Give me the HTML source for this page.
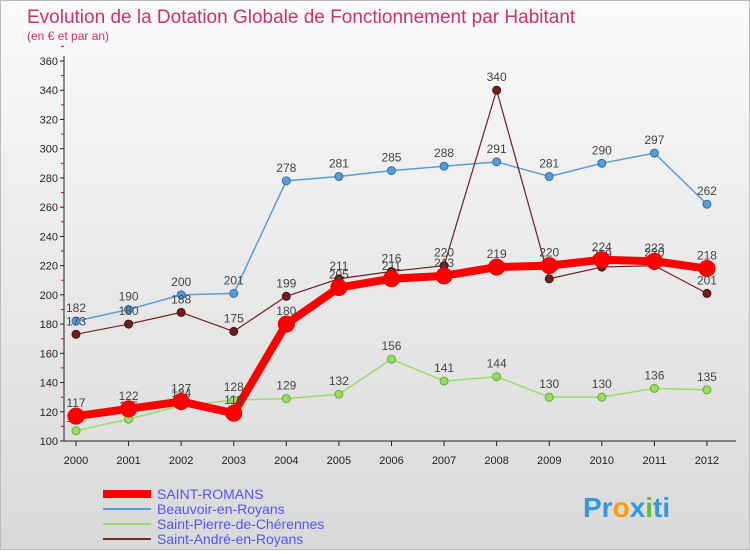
<!DOCTYPE html>
<html><head><meta charset="utf-8"><style>
body{margin:0;width:750px;height:550px;overflow:hidden;font-family:"Liberation Sans",sans-serif}
#wrap{position:relative;width:748px;height:548px;border:1px solid #bbb;background:linear-gradient(#fafafa,#d9d9d9)}
</style></head><body>
<div id="wrap">
<svg id="svg" width="748" height="548" xmlns="http://www.w3.org/2000/svg">
<text x="26" y="22" font-size="19" fill="#c8336a">Evolution de la Dotation Globale de Fonctionnement par Habitant</text>
<text x="26" y="39" font-size="12" fill="#c8336a">(en € et par an)</text>
<g id="axes"></g><g id="series"></g>
<g>
<line x1="102" y1="493" x2="150" y2="493" stroke="#f00" stroke-width="8"/>
<text x="156" y="498" font-size="14" fill="#5555ee">SAINT-ROMANS</text>
<line x1="102" y1="508" x2="150" y2="508" stroke="#5b9bd5" stroke-width="2"/>
<text x="156" y="513" font-size="14" fill="#5555ee">Beauvoir-en-Royans</text>
<line x1="102" y1="523" x2="150" y2="523" stroke="#99dd66" stroke-width="2"/>
<text x="156" y="528" font-size="14" fill="#5555ee">Saint-Pierre-de-Chérennes</text>
<line x1="102" y1="538" x2="150" y2="538" stroke="#7a2a2a" stroke-width="2"/>
<text x="156" y="543" font-size="14" fill="#5555ee">Saint-André-en-Royans</text>
</g>
<text x="582" y="516" font-size="28" font-weight="bold" fill="#3399dd">Pr<tspan fill="#ff9900">o</tspan>x<tspan fill="#66bb33">i</tspan>ti</text>
</svg></div>
<script>
const years=[2000,2001,2002,2003,2004,2005,2006,2007,2008,2009,2010,2011,2012];
const yTicks=[100,120,140,160,180,200,220,240,260,280,300,320,340,360];
const saintRomans=[117,122,127,119,180,205,211,213,219,220,224,223,218];
const beauvoir=[182,190,200,201,278,281,285,288,291,281,290,297,262];
const saintPierre=[107,115,124,128,129,132,156,141,144,130,130,136,135];
const saintAndre=[173,180,188,175,199,211,216,220,340,211,219,220,201];
const NS="http://www.w3.org/2000/svg";
const x=i=>75+i*52.58;
const y=v=>440-(v-100)*380/260;
function mk(t,a,p){const e=document.createElementNS(NS,t);for(const k in a)e.setAttribute(k,a[k]);p.appendChild(e);return e;}
const ax=document.getElementById('axes'),sg=document.getElementById('series');
const yl=mk('line',{x1:63,y1:55,x2:63,y2:440,stroke:'#222'},ax);


const xl=mk('line',{x1:63,y1:440,x2:735,y2:440,stroke:'#222'},ax);


yTicks.forEach(v=>{mk('line',{x1:59,y1:y(v),x2:63,y2:y(v),stroke:'#222'},ax);
mk('line',{x1:60,y1:y(v+10),x2:63,y2:y(v+10),stroke:'#e00'},ax);
const t=mk('text',{x:57,y:y(v)+4,'font-size':11,'text-anchor':'end',fill:'#222'},ax);t.textContent=v;

});
years.forEach((yr,i)=>{mk('line',{x1:x(i),y1:440,x2:x(i),y2:445,stroke:'#222'},ax);
const t=mk('text',{x:x(i),y:463,'font-size':11,'text-anchor':'middle',fill:'#222'},ax);t.textContent=yr;

});
function draw(d,col,w,r,name,stroke){
const p=mk('polyline',{points:d.map((v,i)=>x(i)+','+y(v)).join(' '),fill:'none',stroke:col,'stroke-width':w,'stroke-linejoin':'round'},sg);


d.forEach((v,i)=>{const c=mk('circle',{cx:x(i),cy:y(v),r:r,fill:col,stroke:stroke,'stroke-width':1},sg);


const t=mk('text',{x:x(i),y:y(v)-9,'font-size':12,'text-anchor':'middle',fill:'#444'},sg);t.textContent=v;

});}
draw(saintPierre,'#99dd66',1.5,4,'saint-pierre','#66aa33');
draw(beauvoir,'#5b9bd5',1.5,4,'beauvoir','#2d6fae');
draw(saintAndre,'#6e1f1f',1.2,4,'saint-andre','#4a1010');
draw(saintRomans,'#f00',8,8,'saint-romans','#e00');
</script>
</body></html>
